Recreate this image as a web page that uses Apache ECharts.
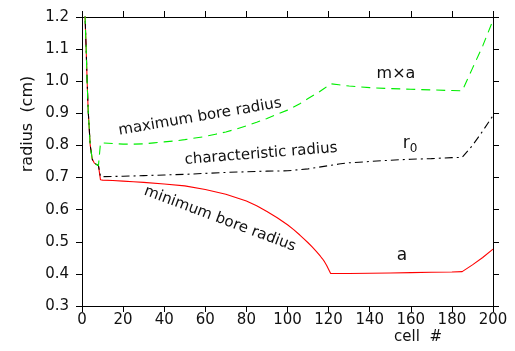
<!DOCTYPE html>
<html>
<head>
<meta charset="utf-8">
<script src="https://cdn.jsdelivr.net/npm/echarts@6/dist/echarts.min.js"></script>
<style>
  html, body { margin: 0; padding: 0; background: #fff; }
  #chart { width: 515px; height: 351px; }
</style>
</head>
<body>
<div id="chart"></div>
<script>
// values
const xTicks = [0, 20, 40, 60, 80, 100, 120, 140, 160, 180, 200];
const yTicks = [0.3, 0.4, 0.5, 0.6, 0.7, 0.8, 0.9, 1.0, 1.1, 1.2];

// shared steep start (cells 1..8), all three curves coincide there
const startCells = [1, 1.5, 2, 2.5, 3, 4, 5, 6, 7, 8];
const startVals = [1.30, 1.20, 1.106, 1.0, 0.91, 0.80, 0.757, 0.745, 0.741, 0.737];

// a : minimum bore radius
const aCells = [9, 10, 15, 20, 25, 30, 40, 50, 60, 70, 80, 85, 90, 95, 100, 103, 106, 108, 110, 112,
  114, 116, 117, 118, 119, 121, 130, 140, 150, 160, 170, 180, 185, 190, 195, 200];
const aVals = [0.693, 0.692, 0.691, 0.689, 0.687, 0.685, 0.680, 0.674, 0.663, 0.648, 0.627, 0.612,
  0.594, 0.575, 0.553, 0.538, 0.521, 0.509, 0.497, 0.484,
  0.470, 0.455, 0.447, 0.438, 0.427, 0.401, 0.401, 0.402, 0.403, 0.404, 0.405, 0.406, 0.407,
  0.428, 0.451, 0.477];

// m x a : maximum bore radius
const maCells = [9, 10, 15, 20, 25, 30, 35, 40, 45, 50, 55, 60, 65, 70, 75, 80, 85, 90, 95, 100,
  103, 106, 110, 115, 118, 121, 125, 130, 140, 150, 160, 170, 180, 185, 190, 195, 200];
const maVals = [0.808, 0.808, 0.806, 0.804, 0.804, 0.805, 0.808, 0.811, 0.814, 0.818, 0.823, 0.828,
  0.835, 0.842, 0.851, 0.861, 0.872, 0.884, 0.897, 0.910,
  0.920, 0.930, 0.946, 0.965, 0.978, 0.992, 0.989, 0.985, 0.980, 0.977, 0.975, 0.973, 0.971,
  0.970, 1.04, 1.11, 1.19];

// r0 : characteristic radius
const r0Cells = [9, 10, 20, 30, 40, 50, 60, 70, 80, 90, 100, 110, 115, 120, 125, 130, 140, 150,
  160, 170, 180, 185, 190, 195, 200];
const r0Vals = [0.703, 0.703, 0.704, 0.706, 0.708, 0.710, 0.713, 0.716, 0.718, 0.720, 0.721, 0.727,
  0.732, 0.737, 0.742, 0.746, 0.750, 0.754, 0.757, 0.759, 0.762, 0.763, 0.800, 0.845, 0.893];

const FONT = 'DejaVu Sans';
const INK = '#111';

const toPairs = (cells, vals) =>
  startCells.map((c, i) => [c, startVals[i]]).concat(cells.map((c, i) => [c, vals[i]]));

const chart = echarts.init(document.getElementById('chart'), null, { renderer: 'canvas' });

const baseAxis = {
  axisLine: { show: true, onZero: false, lineStyle: { color: '#000', width: 1 } },
  axisTick: { show: true, inside: false, length: 6, lineStyle: { color: '#000', width: 1 } },
  splitLine: { show: false },
};

const xAxisBase = {
  ...baseAxis,
  type: 'value',
  min: xTicks[0],
  max: xTicks[xTicks.length - 1],
  interval: xTicks[1] - xTicks[0],
};

const yAxisBase = {
  ...baseAxis,
  type: 'value',
  min: yTicks[0],
  max: yTicks[yTicks.length - 1],
  interval: 0.1,
};

const labelStyle = { fontFamily: FONT, fontSize: 15, color: INK };

const textStyle = (text, size) => ({
  text,
  font: `${size}px ${FONT}`,
  fill: INK,
  textAlign: 'center',
  textVerticalAlign: 'middle',
});

chart.setOption({
  animation: false,
  backgroundColor: '#fff',
  grid: { left: 82, right: 22, top: 17, bottom: 45 },
  xAxis: [
    { ...xAxisBase, position: 'bottom', axisLabel: { ...labelStyle, margin: 7 } },
    { ...xAxisBase, position: 'top', axisLabel: { show: false } },
  ],
  yAxis: [
    {
      ...yAxisBase,
      position: 'left',
      axisLabel: { ...labelStyle, margin: 13, formatter: (v) => v.toFixed(1) },
    },
    { ...yAxisBase, position: 'right', axisLabel: { show: false } },
  ],
  series: [
    {
      name: 'a',
      type: 'line',
      data: toPairs(aCells, aVals),
      showSymbol: false,
      symbol: 'none',
      clip: true,
      lineStyle: { color: '#ff0000', width: 1.1 },
    },
    {
      name: 'r0',
      type: 'line',
      data: toPairs(r0Cells, r0Vals),
      showSymbol: false,
      symbol: 'none',
      clip: true,
      lineStyle: { color: '#000', width: 1.1, type: [8, 4, 2, 4] },
    },
    {
      name: 'mxa',
      type: 'line',
      data: toPairs(maCells, maVals),
      showSymbol: false,
      symbol: 'none',
      clip: true,
      lineStyle: { color: '#00ee00', width: 1.1, type: [9, 6] },
    },
  ],
  graphic: [
    { type: 'text', x: 28, y: 124, rotation: Math.PI / 2, style: textStyle('radius  (cm)', 16) },
    { type: 'text', x: 418, y: 337, style: textStyle('cell  #', 15) },
    { type: 'text', x: 200, y: 117, rotation: 0.17, style: textStyle('maximum bore radius', 15) },
    { type: 'text', x: 261, y: 154, rotation: 0.08, style: textStyle('characteristic radius', 15) },
    { type: 'text', x: 220, y: 219, rotation: -0.36, style: textStyle('minimum bore radius', 15) },
    { type: 'text', x: 396, y: 74, style: textStyle('m×a', 16) },
    {
      type: 'text', x: 410, y: 146,
      style: {
        text: '{r|r}{s|0}',
        textAlign: 'center',
        textVerticalAlign: 'middle',
        rich: {
          r: { font: `17px ${FONT}`, fill: INK, padding: [0, 0, 4, 0] },
          s: { font: `12px ${FONT}`, fill: INK, padding: [6, 0, 0, 0] },
        },
      },
    },
    { type: 'text', x: 402, y: 256, style: textStyle('a', 17) },
  ],
});
</script>
</body>
</html>
